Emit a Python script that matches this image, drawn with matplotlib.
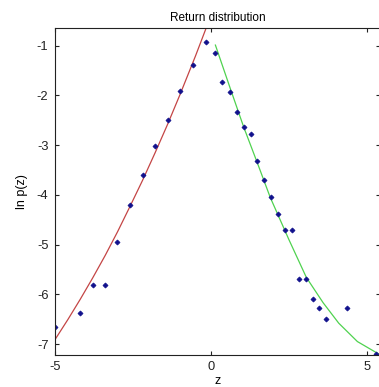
import matplotlib.pyplot as plt

plt.rcParams['font.family'] = ['Liberation Sans', 'DejaVu Sans']
plt.rcParams['axes.unicode_minus'] = False

# binned log-density of returns, negative side
neg_z = [-5.0, -4.22, -3.80, -3.415, -3.02, -2.59, -2.20, -1.794, -1.376, -0.99, -0.585, -0.155]
neg_lnp = [-6.65, -6.37, -5.81, -5.81, -4.94, -4.20, -3.60, -3.02, -2.50, -1.905, -1.39, -0.92]

# positive side
pos_z = [0.122, 0.36, 0.595, 0.83, 1.045, 1.27, 1.473, 1.70, 1.913, 2.15, 2.36, 2.61,
         2.81, 3.06, 3.27, 3.48, 3.70, 4.38, 5.29]
pos_lnp = [-1.147, -1.74, -1.93, -2.33, -2.64, -2.78, -3.32, -3.70, -4.05, -4.38, -4.70, -4.70,
           -5.69, -5.69, -6.09, -6.28, -6.49, -6.28, -7.20]

# fitted curves
fit_neg_z = [-5.0, -4.6, -4.2, -3.8, -3.4, -3.0, -2.6, -2.2, -1.8, -1.4, -1.0, -0.5, 0.0]
fit_neg_lnp = [-6.90, -6.51, -6.10, -5.67, -5.22, -4.74, -4.23, -3.71, -3.16, -2.59, -1.99, -1.21, -0.39]
fit_pos_z = [0.14, 0.6, 1.05, 1.5, 1.9, 2.5, 3.06, 3.6, 4.1, 4.7, 5.33, 5.5]
fit_pos_lnp = [-0.99, -1.83, -2.64, -3.38, -4.05, -4.90, -5.66, -6.17, -6.58, -6.95, -7.18, -7.24]

x_ticks = [-5, 0, 5]
y_ticks = [-7, -6, -5, -4, -3, -2, -1]

fig = plt.figure(figsize=(3.79, 3.87), dpi=100)
ax = fig.add_axes([0.146, 0.0827, 0.857, 0.844])

ax.plot(fit_neg_z, fit_neg_lnp, color='#c44545', linewidth=0.9)
ax.plot(fit_pos_z, fit_pos_lnp, color='#4fd24f', linewidth=0.9)
ax.plot(neg_z, neg_lnp, linestyle='none', marker='D', markersize=2.6,
        markeredgewidth=0.5, color='#10108c')
ax.plot(pos_z, pos_lnp, linestyle='none', marker='D', markersize=2.6,
        markeredgewidth=0.5, color='#10108c')

ax.set_xlim(-5, 5.43)
ax.set_ylim(-7.22, -0.654)
ax.set_xticks(x_ticks)
ax.set_yticks(y_ticks)
ax.tick_params(direction='in', length=3, width=0.8, top=True, right=True,
               labelsize=9.3, colors='#222222')
ax.tick_params(axis='x', pad=4)
ax.tick_params(axis='y', pad=5)
for s in ax.spines.values():
    s.set_linewidth(0.8)
    s.set_color('#222222')

ax.set_title('Return distribution', fontsize=8.5, pad=5)
ax.set_xlabel('z', fontsize=9, labelpad=2)
ax.set_ylabel('ln p(z)', fontsize=9, labelpad=6)

plt.savefig('out.png', dpi=100)
